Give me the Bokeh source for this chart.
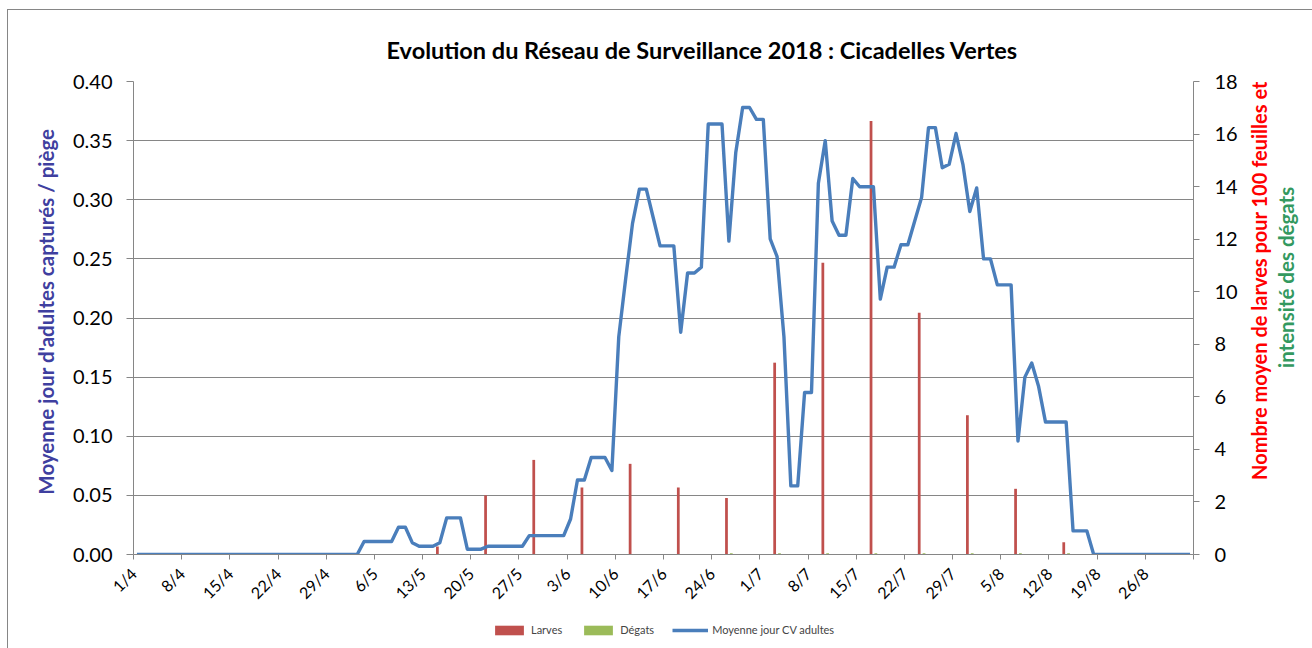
import math
import pandas as pd
from bokeh.plotting import figure
from bokeh.layouts import row, column
from bokeh.models import (Range1d, LinearAxis, FixedTicker, Legend, LegendItem,
                          Label, Title, PrintfTickFormatter)
from bokeh.embed import file_html
from bokeh.resources import INLINE

# ---------------- data ----------------
dates = [f"{d.day}/{d.month}" for d in pd.date_range("2018-04-01", "2018-09-01")]

cv_avril = [0, 0, 0, 0, 0, 0, 0, 0, 0, 0, 0, 0, 0, 0, 0,
            0, 0, 0, 0, 0, 0, 0, 0, 0, 0, 0, 0, 0, 0, 0]
cv_mai = [0, 0, 0, 0.011, 0.011, 0.011, 0.011, 0.011, 0.023, 0.023,
          0.010, 0.007, 0.007, 0.007, 0.010, 0.031, 0.031, 0.031, 0.0045, 0.0045,
          0.0045, 0.007, 0.007, 0.007, 0.007, 0.007, 0.007, 0.016, 0.016, 0.016, 0.016]
cv_juin = [0.016, 0.016, 0.030, 0.063, 0.063, 0.082, 0.082, 0.082, 0.071, 0.184,
           0.233, 0.280, 0.309, 0.309, 0.285, 0.261, 0.261, 0.261, 0.188, 0.238,
           0.238, 0.243, 0.364, 0.364, 0.364, 0.265, 0.340, 0.378, 0.378, 0.368]
cv_juillet = [0.368, 0.267, 0.252, 0.184, 0.058, 0.058, 0.137, 0.137, 0.314, 0.350,
              0.282, 0.270, 0.270, 0.318, 0.311, 0.311, 0.311, 0.216, 0.243, 0.243,
              0.262, 0.262, 0.282, 0.302, 0.361, 0.361, 0.327, 0.330, 0.356, 0.330, 0.290]
cv_aout = [0.310, 0.250, 0.250, 0.228, 0.228, 0.228, 0.096, 0.150, 0.162, 0.142,
           0.112, 0.112, 0.112, 0.112, 0.020, 0.020, 0.020, 0, 0, 0,
           0, 0, 0, 0, 0, 0, 0, 0, 0, 0, 0]
cv_septembre = [0]
cv_adultes = cv_avril + cv_mai + cv_juin + cv_juillet + cv_aout + cv_septembre

larves_dates = ["15/5", "22/5", "29/5", "5/6", "12/6", "19/6", "26/6", "3/7",
                "10/7", "17/7", "24/7", "31/7", "7/8", "14/8", "21/8"]
larves = [0.30, 2.25, 3.6, 2.55, 3.45, 2.55, 2.15, 7.3,
          11.1, 16.5, 9.2, 5.3, 2.5, 0.47, 0.05]

degats_dates = ["26/6", "3/7", "10/7", "17/7", "24/7", "31/7", "7/8", "14/8"]
degats = [0.05, 0.05, 0.05, 0.05, 0.05, 0.05, 0.05, 0.05]

tick_labels = ["1/4", "8/4", "15/4", "22/4", "29/4", "6/5", "13/5", "20/5",
               "27/5", "3/6", "10/6", "17/6", "24/6", "1/7", "8/7", "15/7",
               "22/7", "29/7", "5/8", "12/8", "19/8", "26/8"]

title_text = "Evolution du Réseau de Surveillance 2018 : Cicadelles Vertes"
left_label = "Moyenne jour d'adultes capturés / piège"
right_label_1 = "Nombre moyen de larves pour 100 feuilles et"
right_label_2 = "intensité des dégats"
legend_labels = ["Larves", "Dégats", "Moyenne jour CV adultes"]

# ---------------- build ----------------
FONT = "Lato"
GRID = "#868686"
RED, GREEN, BLUE = "#C0504D", "#9BBB59", "#4A7EBB"
idx = {d: i for i, d in enumerate(dates)}
n_days = len(dates)          # axis spans 0..154

TOP, FH, BOT = 71, 473, 62
LEFT, FW, RIGHT = 125, 1060, 48
TOTAL_W = 1304
LEG_H = 32

p = figure(frame_width=FW, frame_height=FH, x_range=Range1d(0, n_days),
           y_range=Range1d(0, 0.40), output_backend="svg", toolbar_location=None,
           min_border_left=LEFT, min_border_right=RIGHT, min_border_top=TOP,
           min_border_bottom=BOT)
p.outline_line_color = None
p.background_fill_color = "white"
p.border_fill_color = "white"

p.title = Title(text=title_text, align="left", offset=253, text_font=FONT,
                text_font_size="23.5px", text_font_style="bold", text_color="#000000",
                standoff=35)

p.extra_y_ranges = {"r": Range1d(0, 18)}

# bars
xl = [idx[d] + 0.15 for d in larves_dates]
xd = [idx[d] + 0.85 for d in degats_dates]
rl = p.vbar(x=xl, top=larves, width=0.4, y_range_name="r", fill_color=RED, line_color=None)
rd = p.vbar(x=xd, top=degats, width=0.4, y_range_name="r", fill_color=GREEN, line_color=None)

# line
xs = [i + 0.5 for i in range(len(cv_adultes))]
ln = p.line(xs, cv_adultes, line_width=3.4, line_color=BLUE, line_join="round")

# x axis
xt = list(range(0, n_days + 1, 7))
xa = p.xaxis[0]
xa.ticker = FixedTicker(ticks=xt)
overrides = {t: lab for t, lab in zip(xt, tick_labels)}
overrides[n_days] = ""
xa.major_label_overrides = overrides
xa.major_label_orientation = math.pi / 4
xa.major_label_text_font = FONT
xa.major_label_text_font_size = "16px"
xa.major_label_text_color = "#000000"
xa.major_label_standoff = 11
xa.axis_line_color = GRID
xa.major_tick_line_color = GRID
xa.major_tick_out = 5
xa.major_tick_in = 0
xa.minor_tick_line_color = None

# left axis
ya = p.yaxis[0]
ya.ticker = FixedTicker(ticks=[0, 0.05, 0.10, 0.15, 0.20, 0.25, 0.30, 0.35, 0.40])
ya.formatter = PrintfTickFormatter(format="%.2f")
ya.major_label_text_font = FONT
ya.major_label_text_font_size = "20px"
ya.major_label_text_color = "#000000"
ya.major_label_standoff = 14
ya.axis_line_color = GRID
ya.major_tick_line_color = GRID
ya.major_tick_out = 7
ya.major_tick_in = 0
ya.minor_tick_line_color = None
ya.axis_label = "\u2002\u2009" + left_label
ya.axis_label_text_font = FONT
ya.axis_label_text_font_size = "20.5px"
ya.axis_label_text_font_style = "bold"
ya.axis_label_text_color = "#3F3F9F"
ya.axis_label_standoff = 12

p.xgrid.grid_line_color = None
p.ygrid.grid_line_color = GRID
p.ygrid.grid_line_width = 1

# right axis (values)
ra = LinearAxis(y_range_name="r", ticker=FixedTicker(ticks=[0, 2, 4, 6, 8, 10, 12, 14, 16, 18]))
ra.major_label_text_font = FONT
ra.major_label_text_font_size = "20px"
ra.major_label_text_color = "#000000"
ra.major_label_standoff = 15
ra.axis_line_color = GRID
ra.major_tick_line_color = GRID
ra.major_tick_out = 6
ra.major_tick_in = 0
ra.minor_tick_line_color = None
p.add_layout(ra, "right")

# ---- strip at the right holding the two right-axis titles ----
main_h = TOP + FH + BOT
lab_w = TOTAL_W - (LEFT + FW + RIGHT)
pl = figure(width=lab_w, height=main_h, x_range=Range1d(0, lab_w), y_range=Range1d(0, main_h),
            output_backend="svg", toolbar_location=None, min_border=0,
            x_axis_type=None, y_axis_type=None)
pl.outline_line_color = None
pl.grid.visible = False
pl.border_fill_color = "white"
pl.add_layout(Label(x=17, y=main_h - 255, text=right_label_1, angle=math.pi / 2,
                    text_align="center", text_baseline="middle", text_font=FONT,
                    text_font_size="20px", text_font_style="bold", text_color="#FF0000"))
pl.add_layout(Label(x=44, y=main_h - 251, text=right_label_2, angle=math.pi / 2,
                    text_align="center", text_baseline="middle", text_font=FONT,
                    text_font_size="20.5px", text_font_style="bold", text_color="#33995F"))

# ---- legend strip (swatch renderers reuse the series, kept outside the view) ----
pg = figure(width=TOTAL_W, height=LEG_H, x_range=Range1d(-1, 0), y_range=Range1d(-1, 0),
            output_backend="svg", toolbar_location=None, min_border=0,
            x_axis_type=None, y_axis_type=None)
pg.outline_line_color = None
pg.grid.visible = False
pg.border_fill_color = "white"
g1 = pg.vbar(x=xl, top=larves, width=0.4, fill_color=RED, line_color=None)
g2 = pg.vbar(x=xd, top=degats, width=0.4, fill_color=GREEN, line_color=None)
g3 = pg.line(x=xs, y=cv_adultes, line_width=3.4, line_color=BLUE)
legend = Legend(items=[LegendItem(label=legend_labels[0], renderers=[g1]),
                       LegendItem(label=legend_labels[1], renderers=[g2]),
                       LegendItem(label=legend_labels[2], renderers=[g3])],
                orientation="horizontal", location=(483, 12),
                border_line_color=None, background_fill_alpha=0,
                glyph_width=36, glyph_height=12, label_text_font=FONT,
                label_text_font_size="11px", label_standoff=4, spacing=18,
                margin=0, padding=2)
pg.add_layout(legend, "center")

layout = column(row(p, pl, spacing=0), pg, spacing=0)
layout.styles = {"border-left": "1px solid #868686", "border-top": "1px solid #868686",
                 "margin-left": "7px", "margin-top": "9px"}

open("out.html", "w").write(file_html(layout, INLINE))
